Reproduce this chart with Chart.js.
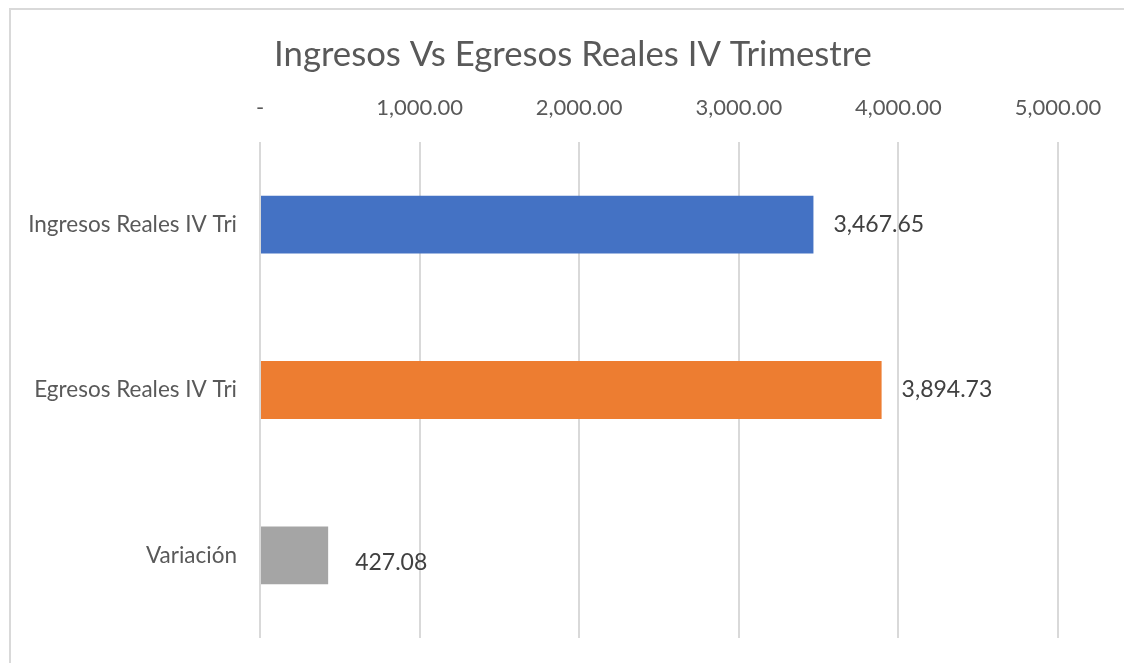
<!DOCTYPE html>
<html>
<head>
<meta charset="utf-8">
<script src="https://cdn.jsdelivr.net/npm/chart.js@4/dist/chart.umd.min.js"></script>
<style>
  html, body { margin: 0; padding: 0; background: #ffffff; overflow: hidden; }
  #marco { position: absolute; left: 9px; top: 8px; width: 1200px; height: 700px; border: 2px solid #d9d9d9; pointer-events: none; }
  canvas { position: absolute; left: 0; top: 0; }
</style>
</head>
<body>
<canvas id="grafico" width="1124" height="663"></canvas>
<div id="marco"></div>
<script>
// datos del grafico
const categorias = ['Ingresos Reales IV Tri', 'Egresos Reales IV Tri', 'Variación'];
const valores = [3467.65, 3894.73, 427.08];
const colores = ['#4472C4', '#ED7D31', '#A5A5A5'];
const ticksEje = [0, 1000, 2000, 3000, 4000, 5000];
const titulo = 'Ingresos Vs Egresos Reales IV Trimestre';

const fmt = v => v.toLocaleString('en-US', { minimumFractionDigits: 2, maximumFractionDigits: 2 });

// etiquetas de datos al final de cada barra
const etiquetas = {
    id: 'etiquetas',
    afterDatasetsDraw(chart, args, opts) {
        const ctx = chart.ctx;
        const meta = chart.getDatasetMeta(0);
        ctx.save();
        ctx.font = '23px Lato';
        ctx.fillStyle = '#404040';
        ctx.textAlign = 'left';
        ctx.textBaseline = 'middle';
        meta.data.forEach((bar, i) => {
            const dx = opts.dx[i] || 20;
            const dy = opts.dy[i] || 0;
            ctx.fillText(fmt(valores[i]), bar.x + dx, bar.y + dy);
        });
        ctx.restore();
    }
};

// titulo dibujado a mano para centrarlo como en Excel
const tituloPlugin = {
    id: 'tituloExcel',
    afterDraw(chart) {
        const ctx = chart.ctx;
        ctx.save();
        ctx.font = '34.7px Lato';
        ctx.fillStyle = '#595959';
        ctx.textAlign = 'center';
        ctx.textBaseline = 'middle';
        ctx.fillText(titulo, 573, 55);
        ctx.restore();
    }
};

const fondo = {
    id: 'fondo',
    beforeDraw(chart) {
        const ctx = chart.ctx;
        ctx.save();
        ctx.fillStyle = '#ffffff';
        ctx.fillRect(0, 0, chart.width, chart.height);
        ctx.restore();
    }
};

new Chart(document.getElementById('grafico').getContext('2d'), {
    type: 'bar',
    data: {
        labels: categorias,
        datasets: [{
            data: valores,
            backgroundColor: colores,
            borderWidth: 0,
            categoryPercentage: 1,
            barPercentage: 0.35
        }]
    },
    options: {
        indexAxis: 'y',
        responsive: false,
        animation: false,
        layout: { padding: { left: 0, right: 66, top: 0, bottom: 25 } },
        plugins: {
            legend: { display: false },
            title: { display: false },
            tooltip: { enabled: false },
            etiquetas: { dx: [20, 20, 27], dy: [0, 0, 7] }
        },
        scales: {
            x: {
                position: 'top',
                min: 0,
                max: 5000,
                afterBuildTicks(scale) {
                    scale.ticks = ticksEje.map(v => ({ value: v }));
                },
                afterFit(scale) {
                    scale.height = 142;
                    scale.paddingLeft = 0;
                    scale.paddingRight = 0;
                },
                border: { display: false },
                grid: { color: '#d9d9d9', lineWidth: 2, drawTicks: false },
                ticks: {
                    padding: 21,
                    color: '#595959',
                    font: { family: 'Lato', size: 22 },
                    callback: v => v === 0 ? '-' : fmt(v)
                }
            },
            y: {
                afterFit(scale) {
                    scale.width = 260;
                    scale.paddingTop = 0;
                    scale.paddingBottom = 0;
                },
                border: { display: false },
                grid: { display: false, drawTicks: false },
                ticks: {
                    padding: 23,
                    color: '#595959',
                    font: { family: 'Lato', size: 22.5 }
                }
            }
        }
    },
    plugins: [fondo, etiquetas, tituloPlugin]
});
</script>
</body>
</html>
